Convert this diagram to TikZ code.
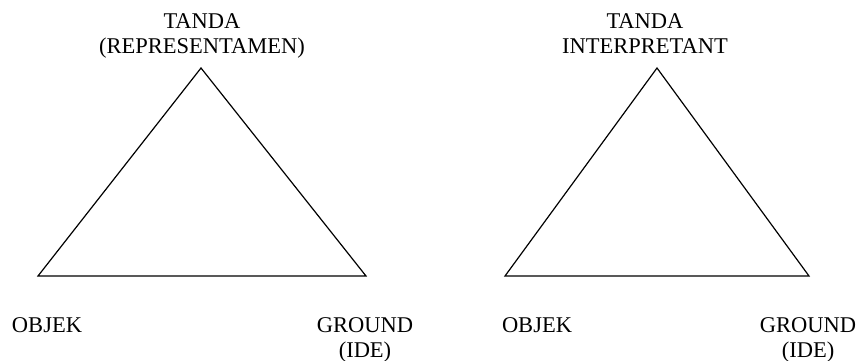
\documentclass[tikz,border=0pt]{standalone}
\usepackage{fontspec}
\setmainfont{Liberation Serif}
\begin{document}
\begin{tikzpicture}[x=1pt, y=-1pt,
  edge/.style={line width=1.2pt, line join=miter},
  lbl/.style={anchor=north, inner sep=0pt, align=center,
    font=\fontsize{22.5}{25}\selectfont}]
  \useasboundingbox (0,0) rectangle (859,360);

  % left triad: sign as representamen
  \coordinate (la) at (201,68);
  \coordinate (lb) at (38,276);
  \coordinate (lc) at (366,276);
  \draw[edge] (la) -- (lb) -- (lc) -- cycle;
  \node[lbl] (ltop) at (202,13) {TANDA\\(REPRESENTAMEN)};
  \node[lbl] (lobj) at (47,317) {OBJEK};
  \node[lbl] (lgnd) at (365,317) {GROUND\\(IDE)};

  % right triad: sign as interpretant
  \coordinate (ra) at (657,68);
  \coordinate (rb) at (505,276);
  \coordinate (rc) at (809,276);
  \draw[edge] (ra) -- (rb) -- (rc) -- cycle;
  \node[lbl] (rtop) at (645,13) {TANDA\\INTERPRETANT};
  \node[lbl] (robj) at (537,317) {OBJEK};
  \node[lbl] (rgnd) at (808,317) {GROUND\\(IDE)};
\end{tikzpicture}
\end{document}
